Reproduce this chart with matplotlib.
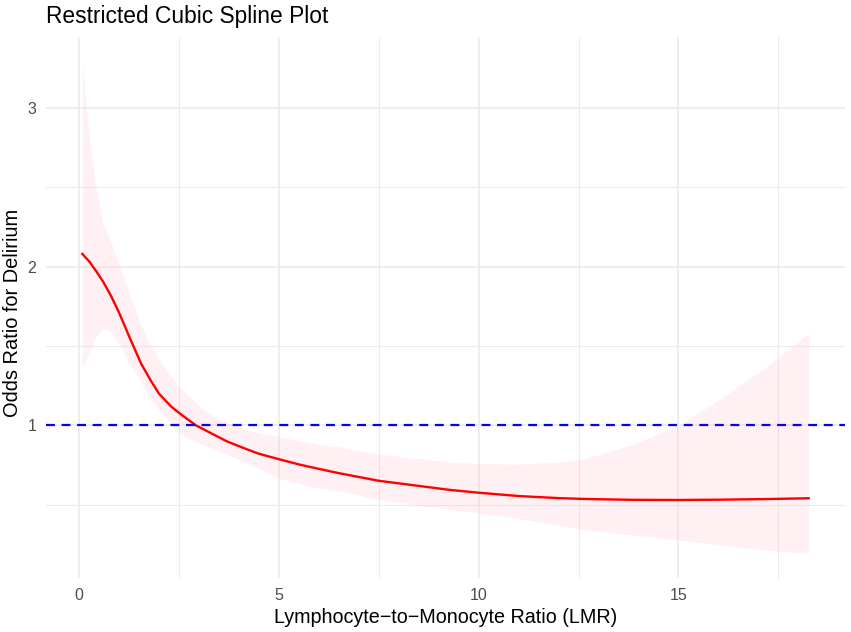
import matplotlib
matplotlib.use("Agg")
import matplotlib.pyplot as plt

plt.rcParams['font.family'] = ['Liberation Sans', 'DejaVu Sans']

lmr = [0.08, 0.26, 0.43, 0.6, 0.8, 1.0, 1.26, 1.55, 1.8, 2.0, 2.3, 2.6, 2.93,
       3.35, 3.7, 4.2, 4.5, 5.0, 5.5, 6.0, 6.5, 7.5, 9.3, 10.0, 11.0, 12.0,
       12.6, 13.2, 13.9, 15.0, 16.0, 17.2, 18.26]
odds = [2.08, 2.03, 1.97, 1.905, 1.815, 1.71, 1.556, 1.39, 1.28, 1.20, 1.12,
        1.06, 1.00, 0.945, 0.90, 0.85, 0.822, 0.788, 0.755, 0.727, 0.70, 0.652,
        0.594, 0.577, 0.556, 0.543, 0.538, 0.535, 0.532, 0.531, 0.533, 0.537,
        0.542]
upper = [3.29, 2.80, 2.48, 2.27, 2.15, 2.02, 1.83, 1.63, 1.50, 1.42, 1.31,
         1.22, 1.14, 1.06, 1.02, 0.97, 0.955, 0.93, 0.905, 0.88, 0.866, 0.82,
         0.77, 0.76, 0.757, 0.77, 0.79, 0.83, 0.887, 1.0, 1.16, 1.37, 1.58]
lower = [1.36, 1.47, 1.56, 1.61, 1.59, 1.51, 1.39, 1.27, 1.17, 1.10, 1.01,
         0.94, 0.895, 0.855, 0.82, 0.76, 0.73, 0.667, 0.635, 0.605, 0.59, 0.535,
         0.47, 0.45, 0.415, 0.372, 0.345, 0.328, 0.31, 0.28, 0.25, 0.215, 0.195]

ref_line = 1.0
x_major = [0, 5, 10, 15]
x_minor = [2.5, 7.5, 12.5, 17.5]
y_major = [1, 2, 3]
y_minor = [0.5, 1.5, 2.5]

fig = plt.figure(figsize=(8.51, 6.32), dpi=100)
ax = fig.add_axes([46/851, 1-578/632, (845-46)/851, (578-37)/632])

xmin, xmax = min(lmr), max(lmr)
ymin, ymax = min(lower), max(upper)
xr = xmax - xmin
yr = ymax - ymin
ax.set_xlim(xmin - 0.05*xr, xmax + 0.05*xr)
ax.set_ylim(ymin - 0.05*yr, ymax + 0.05*yr)

for v in x_minor:
    ax.axvline(v, color='#EBEBEB', lw=0.8, zorder=0)
for v in x_major:
    ax.axvline(v, color='#EBEBEB', lw=1.2, zorder=0)
for v in y_minor:
    ax.axhline(v, color='#EBEBEB', lw=0.8, zorder=0)
for v in y_major:
    ax.axhline(v, color='#EBEBEB', lw=1.2, zorder=0)

ax.fill_between(lmr, lower, upper, color='pink', alpha=0.22, lw=0, zorder=1)
ax.plot(lmr, odds, color='red', lw=1.7, zorder=3, solid_joinstyle='round')
ax.axhline(ref_line, color='blue', lw=1.6, ls=(0, (4, 3)), zorder=4)

ax.set_xticks(x_major)
ax.set_yticks(y_major)
ax.set_xticklabels([str(v) for v in x_major])
ax.set_yticklabels([str(v) for v in y_major])
ax.tick_params(length=0, labelsize=11.5, colors='#4D4D4D', pad=7)
for s in ax.spines.values():
    s.set_visible(False)

ax.set_xlabel('Lymphocyte\u2212to\u2212Monocyte Ratio (LMR)', fontsize=14.2, labelpad=4)
ax.set_ylabel('Odds Ratio for Delirium', fontsize=14.4)
ax.yaxis.set_label_coords(-0.0305, 0.49)
fig.text(46/851, 1-23/632, 'Restricted Cubic Spline Plot', fontsize=16.4,
         ha='left', va='baseline')

fig.savefig('out.png', dpi=100)
